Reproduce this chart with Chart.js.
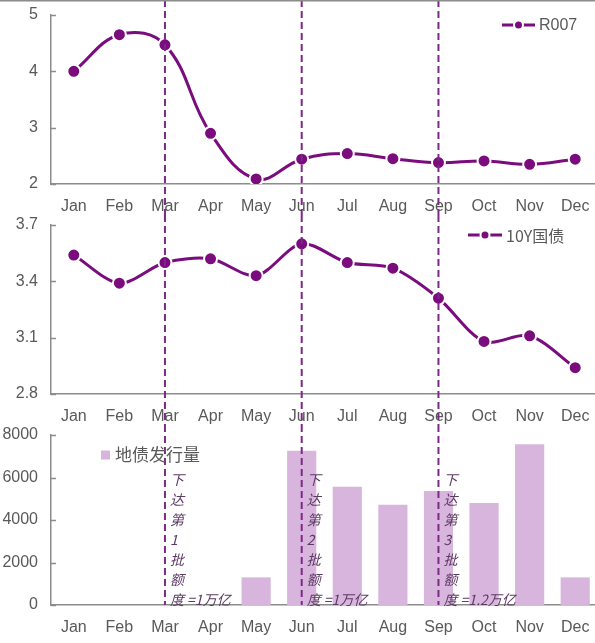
<!DOCTYPE html>
<html>
<head>
<meta charset="utf-8">
<script src="https://cdn.jsdelivr.net/npm/chart.js@4.4.1/dist/chart.umd.min.js"></script>
<style>
  html, body { margin: 0; padding: 0; background: #fff; overflow: hidden; width: 595px; height: 643px; }
  canvas { position: absolute; left: 0; display: block; }
</style>
</head>
<body>
<canvas id="rateChart" width="600" height="215" style="top:0"></canvas>
<canvas id="yieldChart" width="600" height="210" style="top:215px"></canvas>
<canvas id="issueChart" width="600" height="218" style="top:425px"></canvas>
<script>
// Months on the shared x axis
const months = ['Jan', 'Feb', 'Mar', 'Apr', 'May', 'Jun', 'Jul', 'Aug', 'Sep', 'Oct', 'Nov', 'Dec'];

// R007 repo rate (%)
const r007 = [4.00, 4.65, 4.47, 2.90, 2.09, 2.44, 2.54, 2.45, 2.38, 2.41, 2.35, 2.44];
// 10-year government bond yield (%)
const bond10y = [3.54, 3.39, 3.50, 3.52, 3.43, 3.60, 3.50, 3.47, 3.31, 3.08, 3.11, 2.94];
// Local government bond issuance (100m yuan)
const issuance = [0, 0, 0, 0, 1300, 7260, 5560, 4720, 5370, 4800, 7560, 1300];

// Y-axis tick values
const r007Ticks = [2, 3, 4, 5];
const bondTicks = [2.8, 3.1, 3.4, 3.7];
const issuanceTicks = [0, 2000, 4000, 6000, 8000];

// Quota release months and notes
const quotaMonths = ['Mar', 'Jun', 'Sep'];
const quotaBatches = ['1', '2', '3'];
const quotaAmounts = ['1万亿', '1万亿', '1.2万亿'];

const PURPLE = '#7a0c7e';
const DASH_PURPLE = '#7b2a86';
const BAR_COLOR = '#d8b5dc';
const AXIS_GREY = '#8c8c8c';
const TEXT_GREY = '#595959';
const FONT = "'Liberation Sans', Arial, sans-serif";
const CJK = "'Noto Sans CJK SC', sans-serif";

function xAxis() {
  return {
    type: 'category',
    offset: true,
    grid: { display: false, drawTicks: false, offset: true },
    border: { display: true, color: AXIS_GREY, width: 1.5 },
    ticks: { color: TEXT_GREY, font: { family: FONT, size: 16 }, padding: 13, maxRotation: 0, autoSkip: false },
    afterFit: s => { s.height = 31; s.paddingLeft = 0; s.paddingRight = 0; }
  };
}

function yAxis(ticks, fmt) {
  return {
    min: ticks[0],
    max: ticks[ticks.length - 1],
    grid: { display: false, drawTicks: false },
    border: { display: true, color: AXIS_GREY, width: 1.5 },
    ticks: { color: TEXT_GREY, font: { family: FONT, size: 16 }, padding: 13, callback: fmt },
    afterBuildTicks: s => { s.ticks = ticks.map(v => ({ value: v })); },
    afterFit: s => { s.width = 51; s.paddingTop = 0; s.paddingBottom = 0; }
  };
}

// Dashed vertical markers at quota months, inward y ticks, custom legend
function overlay(opts) {
  return {
    id: 'overlay',
    afterDatasetsDraw(chart) {
      const { ctx, chartArea, scales } = chart;
      ctx.save();
      // inward tick marks on the value axis
      ctx.strokeStyle = AXIS_GREY;
      ctx.lineWidth = 1.5;
      scales.y.ticks.forEach(t => {
        const y = Math.round(scales.y.getPixelForValue(t.value)) + 0.5;
        ctx.beginPath();
        ctx.moveTo(chartArea.left, y);
        ctx.lineTo(chartArea.left + 5, y);
        ctx.stroke();
      });
      // quota release markers
      ctx.strokeStyle = DASH_PURPLE;
      ctx.lineWidth = 2;
      ctx.setLineDash([7, 4]);
      quotaMonths.forEach(m => {
        const x = scales.x.getPixelForValue(months.indexOf(m));
        ctx.beginPath();
        ctx.moveTo(x, 0);
        ctx.lineTo(x, opts.stopAtAxis ? chartArea.bottom : chart.height);
        ctx.stroke();
      });
      ctx.setLineDash([]);
      if (opts.topRule) {
        ctx.fillStyle = AXIS_GREY;
        ctx.fillRect(0, 0, chart.width, 1.5);
      }
      // legend
      const lg = opts.legend;
      if (lg.type === 'line') {
        ctx.strokeStyle = PURPLE;
        ctx.lineWidth = 3;
        ctx.beginPath();
        ctx.moveTo(lg.x1, lg.y);
        ctx.lineTo(lg.x2, lg.y);
        ctx.stroke();
        ctx.beginPath();
        ctx.arc((lg.x1 + lg.x2) / 2, lg.y, 4.5, 0, Math.PI * 2);
        ctx.fillStyle = PURPLE;
        ctx.fill();
        ctx.strokeStyle = '#fff';
        ctx.lineWidth = 2;
        ctx.stroke();
        ctx.fillStyle = TEXT_GREY;
        ctx.font = '16px ' + (lg.cjk ? CJK : FONT);
        ctx.textBaseline = 'middle';
        ctx.textAlign = 'left';
        ctx.fillText(lg.text, lg.x2 + 4, lg.y + 1);
      } else {
        ctx.fillStyle = BAR_COLOR;
        ctx.fillRect(lg.x, lg.y - 4.5, 9, 9);
        ctx.fillStyle = TEXT_GREY;
        ctx.font = '17px ' + CJK;
        ctx.textBaseline = 'middle';
        ctx.textAlign = 'left';
        ctx.fillText(lg.text, lg.x + 14, lg.y);
      }
      // quota notes written downward beside each marker
      if (opts.notes) {
        ctx.fillStyle = '#5b3a63';
        ctx.font = 'italic 14px ' + CJK;
        ctx.textBaseline = 'middle';
        ctx.textAlign = 'left';
        quotaMonths.forEach((m, i) => {
          const x = scales.x.getPixelForValue(months.indexOf(m)) + 5;
          const rows = ['下', '达', '第', quotaBatches[i], '批', '额', '度 =' + quotaAmounts[i]];
          rows.forEach((r, k) => {
            const y = chartArea.bottom - 5 - (rows.length - 1 - k) * 20;
            ctx.fillText(r, x, y);
          });
        });
      }
      ctx.restore();
    }
  };
}

function lineDataset(label, data, tension) {
  return {
    label, data,
    borderColor: PURPLE,
    backgroundColor: PURPLE,
    borderWidth: 3,
    tension,
    pointRadius: 6.5,
    pointBorderColor: '#fff',
    pointBorderWidth: 2,
    pointBackgroundColor: PURPLE
  };
}

const common = {
  responsive: false,
  animation: false,
  plugins: { legend: { display: false }, tooltip: { enabled: false } }
};

new Chart(document.getElementById('rateChart'), {
  type: 'line',
  data: { labels: months, datasets: [lineDataset('R007', r007, 0.4)] },
  options: {
    ...common,
    layout: { autoPadding: false, padding: { top: 15, right: 2, bottom: 0, left: 0 } },
    scales: { x: xAxis(), y: yAxis(r007Ticks, v => String(v)) }
  },
  plugins: [overlay({ topRule: true, legend: { type: 'line', x1: 502, x2: 535, y: 25, text: 'R007' } })]
});

new Chart(document.getElementById('yieldChart'), {
  type: 'line',
  data: { labels: months, datasets: [lineDataset('10Y国债', bond10y, 0.3)] },
  options: {
    ...common,
    layout: { autoPadding: false, padding: { top: 10, right: 2, bottom: 0, left: 0 } },
    scales: { x: xAxis(), y: yAxis(bondTicks, v => Number(v).toFixed(1)) }
  },
  plugins: [overlay({ legend: { type: 'line', x1: 468, x2: 502, y: 20, text: '10Y国债', cjk: true } })]
});

new Chart(document.getElementById('issueChart'), {
  type: 'bar',
  data: {
    labels: months,
    datasets: [{
      label: '地债发行量', data: issuance,
      backgroundColor: BAR_COLOR,
      categoryPercentage: 1, barPercentage: 0.64
    }]
  },
  options: {
    ...common,
    layout: { autoPadding: false, padding: { top: 10, right: 2, bottom: 7, left: 0 } },
    scales: { x: xAxis(), y: yAxis(issuanceTicks, v => String(v)) }
  },
  plugins: [overlay({ stopAtAxis: true, notes: true, legend: { type: 'box', x: 101, y: 30, text: '地债发行量' } })]
});
</script>
</body>
</html>
